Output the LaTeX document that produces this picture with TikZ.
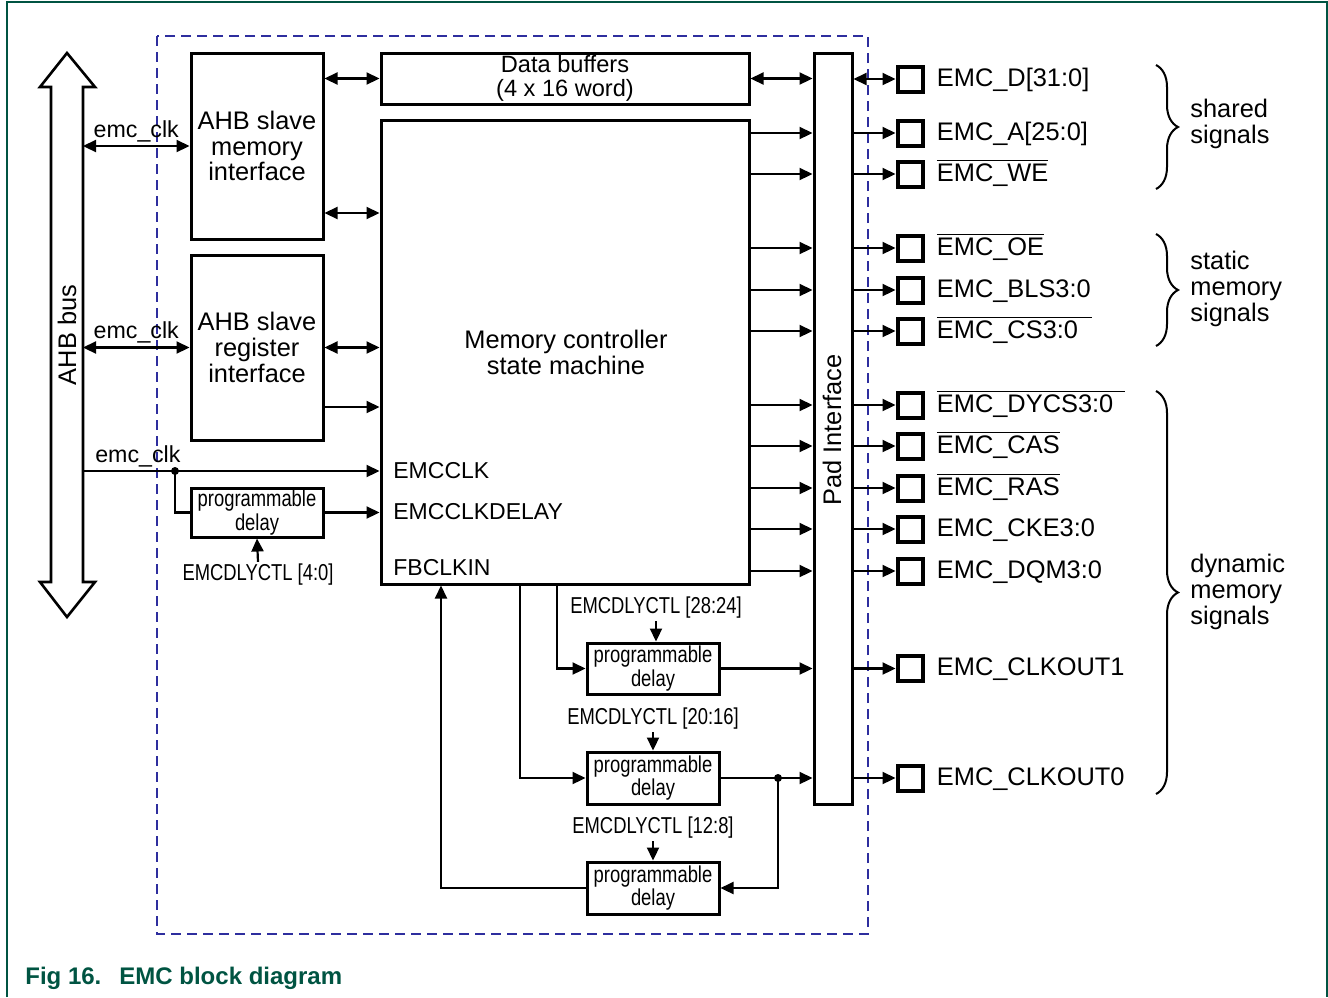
\documentclass[tikz,border=0pt]{standalone}
\usepackage{fontspec}
\setmainfont{Liberation Sans}
\newfontfamily\narrowfont[FakeStretch=0.80]{Liberation Sans}
\usetikzlibrary{arrows.meta,calc,decorations.pathreplacing,positioning}
\definecolor{framegreen}{RGB}{0,84,66}
\definecolor{emcblue}{RGB}{46,46,158}
\newcommand{\negsig}[1]{$\overline{\mbox{#1}}$}
\tikzset{
  wire/.style={black,line width=1.1pt},
  arr/.style={wire,-{Triangle[length=6.5pt,width=6pt]}},
  dblarr/.style={wire,{Triangle[length=6.5pt,width=6pt]}-{Triangle[length=6.5pt,width=6pt]}},
  block/.style={draw=black,line width=1.5pt,inner sep=0pt,align=center,
                font=\fontsize{12.7}{12.8}\selectfont},
  delaybox/.style={block,minimum width=66pt,font=\narrowfont\fontsize{11.5}{10.5}\selectfont},
  ctl/.style={inner sep=1pt,font=\narrowfont\fontsize{11.5}{12}\selectfont},
  pin/.style={draw=black,line width=2pt,minimum size=12.5pt,inner sep=0pt},
  pinlab/.style={inner sep=0pt,text height=9.5pt,text depth=2.5pt,
                 font=\fontsize{12.7}{13}\selectfont},
  sig/.style={inner sep=0pt,font=\fontsize{11.5}{12}\selectfont},
  clklab/.style={inner sep=1.5pt,font=\fontsize{11.6}{12}\selectfont},
  group/.style={align=left,inner sep=0pt,font=\fontsize{12.7}{13.2}\selectfont},
  brace/.style={decorate,decoration={brace,amplitude=11pt},line width=1pt},
  dot/.style={fill=black},
  caption/.style={inner sep=0pt,text=framegreen,font=\bfseries\fontsize{12}{14}\selectfont},
}

\begin{document}
\begin{tikzpicture}[x=0.5pt,y=-0.5pt]
  \path[use as bounding box] (0,0) rectangle (1328,997);
  \draw[framegreen,line width=1pt] (7,997) -- (7,2) -- (1327,2) -- (1327,997);
  \draw[emcblue,line width=1pt,dash pattern=on 5pt off 3pt] (157,36) rectangle (868,934);

  % AHB bus
  \draw[line width=1.3pt,line join=miter] (51,87) -- (40,87) -- (67,53) -- (95,87) -- (83,87)
    -- (83,582) -- (95,582) -- (67,617) -- (40,582) -- (51,582) -- cycle;
  \node[block,draw=none,rotate=90] (ahb) at (67,335) {AHB bus};
  \coordinate (busR) at (83,0);

  % blocks
  \node[block,minimum width=66pt,minimum height=93pt] (ahbmem) at (257,146)
    {AHB slave\\memory\\interface};
  \node[block,minimum width=66pt,minimum height=92.5pt] (ahbreg) at (257,347.5)
    {AHB slave\\register\\interface};
  \node[block,minimum width=184pt,minimum height=25.5pt,font=\fontsize{11.8}{12}\selectfont]
    (databuf) at (565,78.5) {Data buffers\\(4 x 16 word)};
  \node[block,minimum width=184pt,minimum height=232pt] (mc) at (565,352) {};
  \node[block,draw=none,font=\fontsize{12.7}{13}\selectfont] (mctxt) at (566,352)
    {Memory controller\\state machine};
  \node[block,minimum width=19pt,minimum height=375.5pt] (pad) at (833,428.5) {};
  \node[block,draw=none,rotate=90] (padtxt) at (832,430) {Pad Interface};

  \node[sig,anchor=west] (emcclk) at (393,471) {EMCCLK};
  \node[sig,anchor=west] (emcclkdly) at (393,512) {EMCCLKDELAY};
  \node[sig,anchor=west] (fbclkin) at (393,568) {FBCLKIN};

  \node[delaybox,minimum height=24.5pt] (dly1) at (257,512.5) {programmable\\delay};
  \node[delaybox,minimum height=25.5pt] (dly2) at (653,668.5) {programmable\\delay};
  \node[delaybox,minimum height=26pt] (dly3) at (653,778) {programmable\\delay};
  \node[delaybox,minimum height=26pt] (dly4) at (653,888) {programmable\\delay};
  \node[ctl] (ctl1) at (258,575) {EMCDLYCTL [4:0]};
  \node[ctl] (ctl2) at (656,608) {EMCDLYCTL [28:24]};
  \node[ctl] (ctl3) at (653,719) {EMCDLYCTL [20:16]};
  \node[ctl] (ctl4) at (653,828) {EMCDLYCTL [12:8]};

  % pins
  \node[pin] (pD) at (910,79) {};
  \node[pin] (pA) at (910,133) {};
  \node[pin] (pWE) at (910,174) {};
  \node[pin] (pOE) at (910,248) {};
  \node[pin] (pBLS) at (910,290) {};
  \node[pin] (pCS) at (910,331) {};
  \node[pin] (pDYCS) at (910,405) {};
  \node[pin] (pCAS) at (910,446) {};
  \node[pin] (pRAS) at (910,488) {};
  \node[pin] (pCKE) at (910,529) {};
  \node[pin] (pDQM) at (910,571) {};
  \node[pin] (pCK1) at (910,668.5) {};
  \node[pin] (pCK0) at (910,778) {};
  \node[pinlab,right=6pt of pD] (lD) {EMC\_D[31:0]};
  \node[pinlab,right=6pt of pA] (lA) {EMC\_A[25:0]};
  \node[pinlab,right=6pt of pWE] (lWE) {\negsig{EMC\_WE}};
  \node[pinlab,right=6pt of pOE] (lOE) {\negsig{EMC\_OE}};
  \node[pinlab,right=6pt of pBLS] (lBLS) {EMC\_BLS3:0};
  \node[pinlab,right=6pt of pCS] (lCS) {\negsig{EMC\_CS3:0\hspace{7pt}}};
  \node[pinlab,right=6pt of pDYCS] (lDYCS) {\negsig{EMC\_DYCS3:0\hspace{6pt}}};
  \node[pinlab,right=6pt of pCAS] (lCAS) {\negsig{EMC\_CAS}};
  \node[pinlab,right=6pt of pRAS] (lRAS) {\negsig{EMC\_RAS}};
  \node[pinlab,right=6pt of pCKE] (lCKE) {EMC\_CKE3:0};
  \node[pinlab,right=6pt of pDQM] (lDQM) {EMC\_DQM3:0};
  \node[pinlab,right=6pt of pCK1] (lCK1) {EMC\_CLKOUT1};
  \node[pinlab,right=6pt of pCK0] (lCK0) {EMC\_CLKOUT0};

  % groups
  \draw[brace] (1156,65) -- (1156,189);
  \draw[brace] (1156,234) -- (1156,346);
  \draw[brace] (1156,391) -- (1156,794);
  \node[group,anchor=west] (gshared) at (1190,124) {shared\\signals};
  \node[group,anchor=west] (gstatic) at (1190,289) {static\\memory\\signals};
  \node[group,anchor=west] (gdynamic) at (1190,592) {dynamic\\memory\\signals};

  % AHB side
  \coordinate (yM2) at (0,213);
  \coordinate (yR2) at (0,407);
  \draw[dblarr] (busR |- ahbmem) -- node[clklab,above] (clk1) {emc\_clk} (ahbmem.west);
  \draw[dblarr] (busR |- ahbreg) -- node[clklab,above] (clk2) {emc\_clk} (ahbreg.west);
  \draw[arr] (busR |- emcclk) -- node[clklab,above,pos=0.185] (clk3) {emc\_clk} (mc.west |- emcclk);
  \coordinate (tap1) at (175,471);
  \fill[dot] (tap1) circle (2pt);
  \draw[wire] (tap1) |- (dly1.west);
  \draw[arr] (dly1.east) -- (mc.west |- dly1);
  \draw[arr] (ctl1.north) -- (dly1.south);
  \draw[dblarr] (ahbmem.east |- databuf) -- (databuf.west);
  \draw[dblarr] (ahbmem.east |- yM2) -- (mc.west |- yM2);
  \draw[dblarr] (ahbreg.east) -- (mc.west |- ahbreg);
  \draw[arr] (ahbreg.east |- yR2) -- (mc.west |- yR2);

  % controller to pads
  \draw[dblarr] (databuf.east) -- (pad.west |- databuf);
  \draw[arr] (mc.east |- pA) -- (pad.west |- pA);
  \draw[arr] (mc.east |- pWE) -- (pad.west |- pWE);
  \draw[arr] (mc.east |- pOE) -- (pad.west |- pOE);
  \draw[arr] (mc.east |- pBLS) -- (pad.west |- pBLS);
  \draw[arr] (mc.east |- pCS) -- (pad.west |- pCS);
  \draw[arr] (mc.east |- pDYCS) -- (pad.west |- pDYCS);
  \draw[arr] (mc.east |- pCAS) -- (pad.west |- pCAS);
  \draw[arr] (mc.east |- pRAS) -- (pad.west |- pRAS);
  \draw[arr] (mc.east |- pCKE) -- (pad.west |- pCKE);
  \draw[arr] (mc.east |- pDQM) -- (pad.west |- pDQM);

  % pads to pins
  \draw[dblarr] (pad.east |- pD) -- (pD);
  \draw[arr] (pad.east |- pA) -- (pA);
  \draw[arr] (pad.east |- pWE) -- (pWE);
  \draw[arr] (pad.east |- pOE) -- (pOE);
  \draw[arr] (pad.east |- pBLS) -- (pBLS);
  \draw[arr] (pad.east |- pCS) -- (pCS);
  \draw[arr] (pad.east |- pDYCS) -- (pDYCS);
  \draw[arr] (pad.east |- pCAS) -- (pCAS);
  \draw[arr] (pad.east |- pRAS) -- (pRAS);
  \draw[arr] (pad.east |- pCKE) -- (pCKE);
  \draw[arr] (pad.east |- pDQM) -- (pDQM);
  \draw[arr] (pad.east |- pCK1) -- (pCK1);
  \draw[arr] (pad.east |- pCK0) -- (pCK0);

  % clock outputs and feedback
  \coordinate (xA) at (520,0);
  \coordinate (xB) at (557,0);
  \coordinate (xF) at (441,0);
  \draw[arr] (mc.south -| xB) |- (dly2.west);
  \draw[arr] (mc.south -| xA) |- (dly3.west);
  \draw[arr] (ctl2.south) -- (ctl2.south |- dly2.north);
  \draw[arr] (ctl3.south) -- (dly3.north);
  \draw[arr] (ctl4.south) -- (dly4.north);
  \draw[arr] (dly2.east) -- (pad.west |- dly2);
  \draw[arr] (dly3.east) -- (pad.west |- dly3);
  \coordinate (tap2) at (778,778);
  \fill[dot] (tap2) circle (2pt);
  \draw[arr] (tap2) |- (dly4.east);
  \draw[arr] (dly4.west) -| (mc.south -| xF);

  \node[caption,anchor=west] (cap) at (25,978) {Fig 16.\hspace{0.75em}EMC block diagram};
\end{tikzpicture}
\end{document}
